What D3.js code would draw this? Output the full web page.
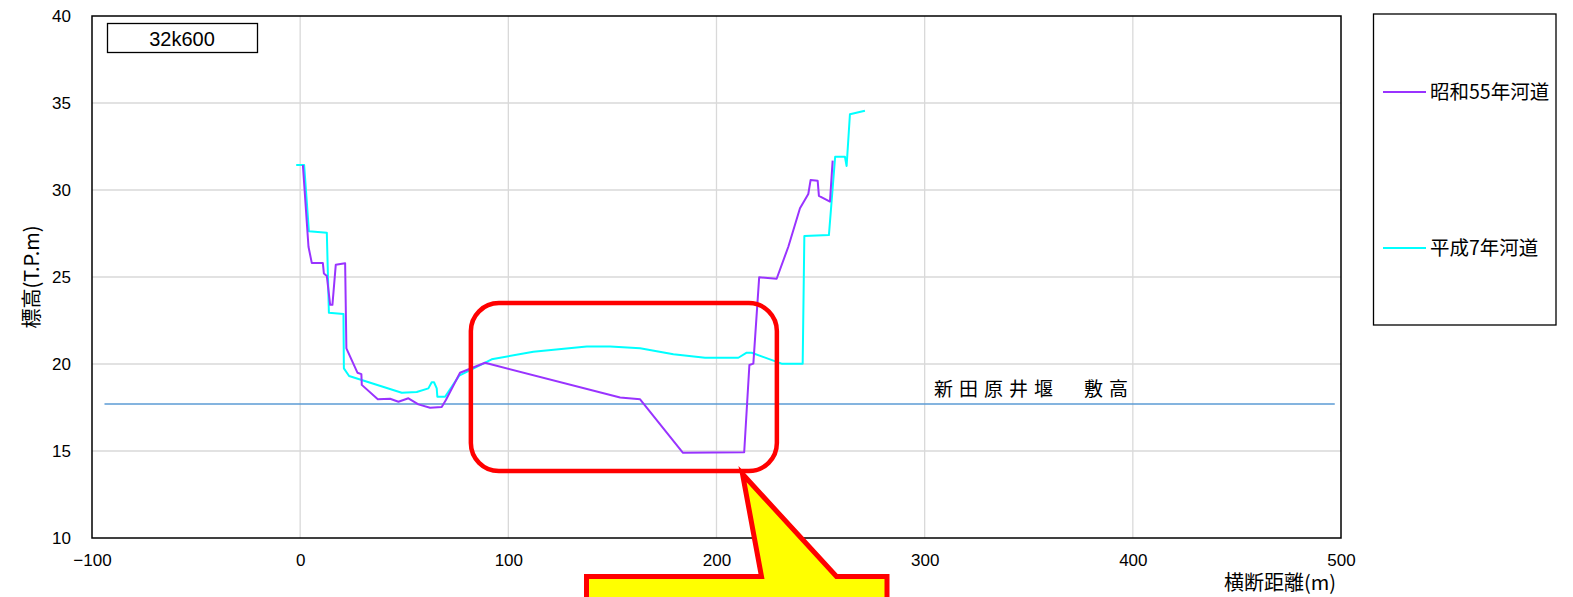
<!DOCTYPE html>
<html><head><meta charset="utf-8">
<script src="https://cdn.jsdelivr.net/npm/d3@7"></script>
<style>body{margin:0;background:#fff}svg{display:block}</style>
</head><body>
<script>
// ---- data ----
const xTicks = [-100, 0, 100, 200, 300, 400, 500];
const yTicks = [10, 15, 20, 25, 30, 35, 40];
const sectionLabel = "32k600";
const seriesNames = ["昭和55年河道", "平成7年河道"];
const seriesColors = ["#9933ff", "#00ffff"];
const s55x = [1.3, 4, 5.6, 10.9, 11.4, 12.8, 14.4, 15.5, 17.1, 21.6, 22.2, 27.5, 29.4, 29.6, 37.3, 43.2, 47.2, 52, 56.8, 62.4, 68, 70, 76.8, 88.8, 153.7, 163.3, 183.8, 213.3, 215.8, 217.7, 220.5, 228.9, 234.5, 240.1, 244.1, 245.2, 248.6, 249.2, 254.5, 255.8];
const s55y = [31.44, 26.74, 25.8, 25.8, 25.2, 25.06, 23.4, 23.4, 25.7, 25.79, 20.9, 19.5, 19.42, 18.8, 17.97, 18.0, 17.83, 18.03, 17.68, 17.49, 17.53, 17.93, 19.5, 20.07, 18.08, 17.97, 14.9, 14.93, 19.94, 20.02, 24.98, 24.9, 26.74, 28.95, 29.77, 30.57, 30.53, 29.66, 29.33, 31.69];
const h7x = [-1.9, 1.9, 4.2, 12.8, 13.8, 20.8, 21, 23.5, 48.8, 56, 61.6, 63.2, 64.3, 65.6, 65.9, 69.6, 76.4, 92, 112, 137.7, 148.9, 163.3, 179.3, 194.5, 210.5, 214.5, 216.9, 231.3, 241.4, 242.2, 254.0, 257.0, 261.7, 262.5, 264.1, 271.3];
const h7y = [31.44, 31.44, 27.63, 27.55, 22.95, 22.87, 19.75, 19.31, 18.35, 18.39, 18.6, 18.95, 18.95, 18.6, 18.12, 18.12, 19.33, 20.27, 20.71, 21.0, 21.0, 20.9, 20.56, 20.36, 20.36, 20.65, 20.65, 20.02, 20.02, 27.36, 27.41, 31.91, 31.91, 31.38, 34.35, 34.56];
const weirLabel = "新田原井堰　敷高";
const weirX = [-94, 497];
const weirY = [17.7, 17.7];
const xTitle = "横断距離(m)";
const yTitle = "標高(T.P.m)";

// ---- layout ----
const W = 1573, H = 597;
const L = 92, R = 1341, T = 16, B = 538;
const svg = d3.select("body").append("svg").attr("width", W).attr("height", H);
const x = d3.scaleLinear().domain([-100, 500]).range([L, R]);
const y = d3.scaleLinear().domain([10, 40]).range([B, T]);
const tickFont = "'Liberation Sans', Arial, sans-serif";
const cjkFont = "'Noto Sans CJK JP', sans-serif";

// gridlines
svg.append("g").selectAll("line").data(yTicks.slice(1, -1)).join("line")
  .attr("x1", L).attr("x2", R).attr("y1", d => y(d)).attr("y2", d => y(d))
  .attr("stroke", "#d9d9d9").attr("stroke-width", 1.3);
svg.append("g").selectAll("line").data(xTicks.slice(1, -1)).join("line")
  .attr("y1", T).attr("y2", B).attr("x1", d => x(d)).attr("x2", d => x(d))
  .attr("stroke", "#d9d9d9").attr("stroke-width", 1.3);

// axes (labels via d3 axis)
const xAxis = svg.append("g").attr("transform", `translate(0,${B})`)
  .call(d3.axisBottom(x).tickValues(xTicks).tickSize(0).tickPadding(16).tickFormat(d => d < 0 ? "−" + Math.abs(d) : d));
xAxis.select(".domain").remove();
xAxis.selectAll("text").attr("font-family", tickFont).attr("font-size", 17).attr("fill", "#000");
const yAxis = svg.append("g").attr("transform", `translate(${L},0)`)
  .call(d3.axisLeft(y).tickValues(yTicks).tickSize(0).tickPadding(21));
yAxis.select(".domain").remove();
yAxis.selectAll("text").attr("font-family", tickFont).attr("font-size", 17).attr("fill", "#000");

// weir line
const line = d3.line().x(d => x(d[0])).y(d => y(d[1]));
svg.append("path").datum(d3.zip(weirX, weirY)).attr("d", line)
  .attr("fill", "none").attr("stroke", "#5b9bd5").attr("stroke-width", 1.3);
svg.append("text").attr("x", x(304.5)).attr("y", y(17.7) - 8).text(weirLabel)
  .attr("font-family", cjkFont).attr("font-size", 19).attr("letter-spacing", 6).attr("fill", "#000");

// series
svg.append("path").datum(d3.zip(h7x, h7y)).attr("d", line)
  .attr("fill", "none").attr("stroke", seriesColors[1]).attr("stroke-width", 2).attr("stroke-linejoin", "round");
svg.append("path").datum(d3.zip(s55x, s55y)).attr("d", line)
  .attr("fill", "none").attr("stroke", seriesColors[0]).attr("stroke-width", 2).attr("stroke-linejoin", "round");

// frame
svg.append("rect").attr("x", L).attr("y", T).attr("width", R - L).attr("height", B - T)
  .attr("fill", "none").attr("stroke", "#000").attr("stroke-width", 1.5);

// section label box
svg.append("rect").attr("x", 107.5).attr("y", 23.5).attr("width", 150).attr("height", 29)
  .attr("fill", "#fff").attr("stroke", "#000").attr("stroke-width", 1.3);
svg.append("text").attr("x", 182).attr("y", 45.5).attr("text-anchor", "middle").text(sectionLabel)
  .attr("font-family", tickFont).attr("font-size", 20).attr("fill", "#000");

// axis titles
svg.append("text").attr("transform", `translate(39,277) rotate(-90)`).attr("text-anchor", "middle")
  .text(yTitle).attr("font-family", cjkFont).attr("font-size", 20).attr("fill", "#000");
svg.append("text").attr("x", R - 5).attr("y", 590).attr("text-anchor", "end")
  .text(xTitle).attr("font-family", cjkFont).attr("font-size", 20).attr("fill", "#000");

// legend
svg.append("rect").attr("x", 1373.5).attr("y", 14).attr("width", 182.5).attr("height", 311)
  .attr("fill", "#fff").attr("stroke", "#000").attr("stroke-width", 1.3);
const legY = [92, 248];
seriesNames.forEach((n, i) => {
  svg.append("line").attr("x1", 1383).attr("x2", 1426).attr("y1", legY[i]).attr("y2", legY[i])
    .attr("stroke", seriesColors[i]).attr("stroke-width", 2);
  svg.append("text").attr("x", 1430).attr("y", legY[i] + 7).text(n)
    .attr("font-family", cjkFont).attr("font-size", 19.5).attr("fill", "#000");
});

// highlight rounded rect
svg.append("rect").attr("x", x(82)).attr("y", y(23.5)).attr("width", x(229) - x(82)).attr("height", y(13.85) - y(23.5))
  .attr("rx", 28).attr("ry", 28).attr("fill", "none").attr("stroke", "#ff0000").attr("stroke-width", 4.5);

// callout
const callout = [[x(212.5), y(13.85) + 3], [836.5, 576.5], [887, 576.5], [887, 610], [586.5, 610], [586.5, 576.5], [761.5, 576.5]];
svg.append("path").attr("d", "M" + callout.map(p => p.join(",")).join("L") + "Z")
  .attr("fill", "#ffff00").attr("stroke", "#ff0000").attr("stroke-width", 5).attr("stroke-linejoin", "miter");
</script>
</body></html>
